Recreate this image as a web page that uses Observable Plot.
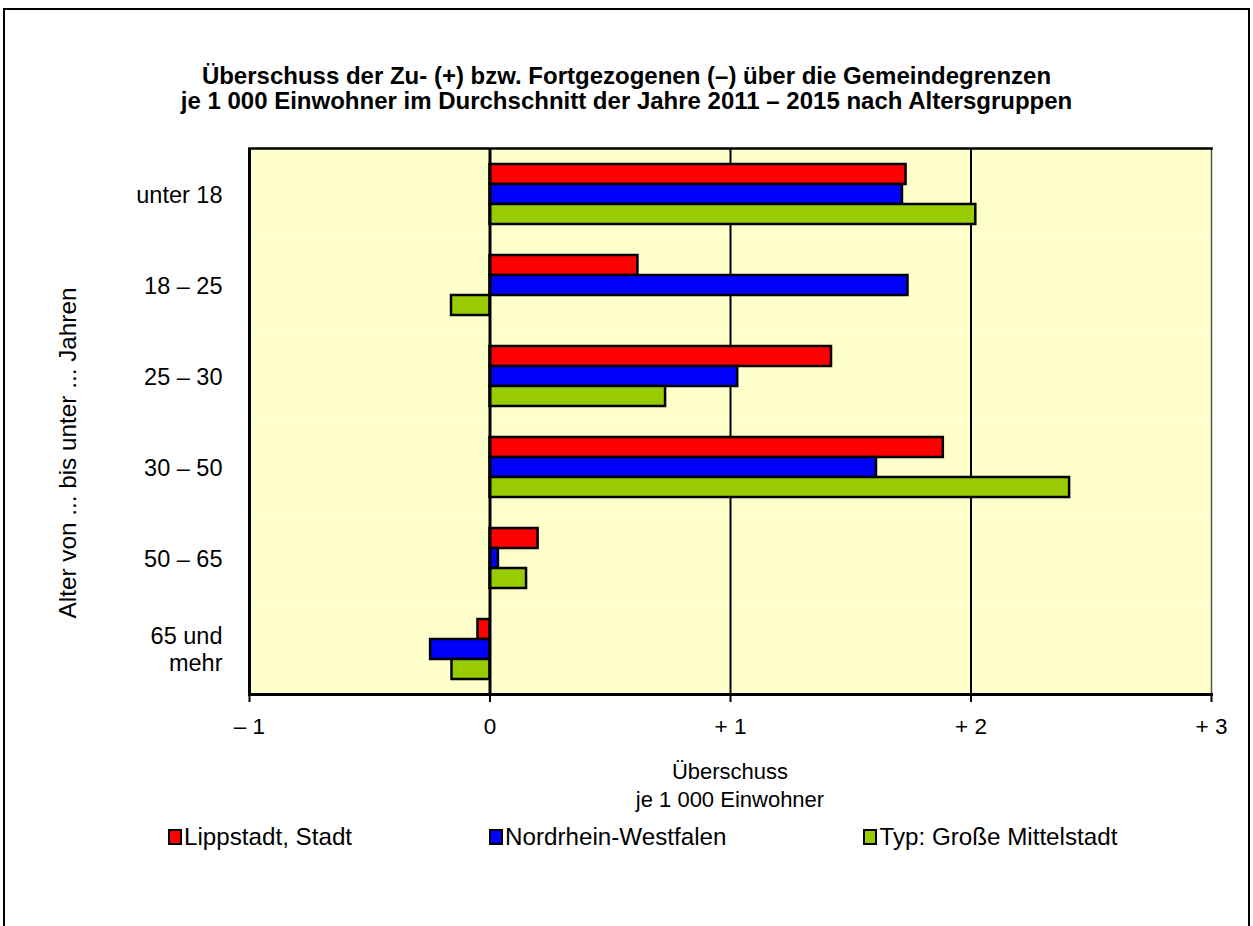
<!DOCTYPE html>
<html>
<head>
<meta charset="utf-8">
<script src="https://cdn.jsdelivr.net/npm/d3@7"></script>
<script src="https://cdn.jsdelivr.net/npm/@observablehq/plot@0.6"></script>
<style>
  html, body { margin: 0; padding: 0; background: #fff; width: 1253px; height: 926px; overflow: hidden; }
  body { position: relative; font-family: "Liberation Sans", Arial, sans-serif; color: #000; }
  #frame { position: absolute; left: 3px; top: 8px; width: 1243px; height: 940px; border: 2px solid #000; border-bottom: none; }
  #title { position: absolute; left: 0; top: 63px; width: 1253px; text-align: center; font-weight: bold; font-size: 24px; line-height: 25px; }
  #chart { position: absolute; left: 0; top: 120px; }
  #ylab { position: absolute; left: 68px; top: 453px; transform: translate(-50%, -50%) rotate(-90deg); white-space: nowrap; font-size: 24.3px; }
  #xlab { position: absolute; left: 430px; top: 758px; width: 600px; text-align: center; font-size: 22px; line-height: 28px; }
  #legend { position: absolute; left: 168px; top: 822px; display: flex; gap: 137px; font-size: 24.2px; line-height: 30px; }
  .item { display: flex; align-items: center; white-space: nowrap; }
  .sw { width: 10px; height: 12px; border: 2px solid #000; margin-right: 2px; }
</style>
</head>
<body>
<div id="frame"></div>
<div id="title">Überschuss der Zu- (+) bzw. Fortgezogenen (–) über die Gemeindegrenzen<br>je 1 000 Einwohner im Durchschnitt der Jahre 2011 – 2015 nach Altersgruppen</div>
<div id="chart"></div>
<div id="ylab">Alter von ... bis unter ... Jahren</div>
<div id="xlab">Überschuss<br>je 1 000 Einwohner</div>
<div id="legend"></div>
<script>
const groups = ["unter 18", "18 – 25", "25 – 30", "30 – 50", "50 – 65", "65 und\nmehr"];
const seriesNames = ["Lippstadt, Stadt", "Nordrhein-Westfalen", "Typ: Große Mittelstadt"];
const seriesColors = ["#FF0000", "#0000FF", "#99CC00"];
const lippstadt = [1.73, 0.615, 1.42, 1.885, 0.20, -0.05];
const nrw = [1.715, 1.738, 1.03, 1.607, 0.035, -0.247];
const typ = [2.02, -0.16, 0.73, 2.41, 0.152, -0.158];
const xTicks = [-1, 0, 1, 2, 3];
const xTickLabels = ["– 1", "0", "+ 1", "+ 2", "+ 3"];
const gridValues = [1, 2];

const seriesValues = [lippstadt, nrw, typ];
const data = [];
groups.forEach((g, i) => {
  seriesNames.forEach((s, j) => {
    data.push({group: g, series: s, value: seriesValues[j][i]});
  });
});

const plot = Plot.plot({
  width: 1253,
  height: 630,
  marginLeft: 249,
  marginRight: 42,
  marginTop: 26,
  marginBottom: 54,
  style: {fontFamily: "Liberation Sans, Arial, sans-serif", fontSize: "22px", background: "transparent", color: "#000"},
  x: {domain: [-1, 3]},
  y: {domain: seriesNames, paddingInner: 0, paddingOuter: 0.745, axis: null},
  fy: {domain: groups, padding: 0, label: null},
  color: {domain: seriesNames, range: seriesColors},
  marks: [
    Plot.frame({fill: "#FFFFCC", stroke: null}),
    Plot.ruleX(gridValues, {stroke: "#000", strokeWidth: 2}),
    Plot.barX(data, {x: "value", y: "series", fy: "group", fill: "series", stroke: "#000", strokeWidth: 2.5, insetTop: 0, insetBottom: 0}),
    Plot.ruleX([0], {stroke: "#000", strokeWidth: 3}),
    Plot.ruleX([xTicks[0]], {stroke: "#000", strokeWidth: 3}),
    Plot.ruleX([xTicks[xTicks.length - 1]], {stroke: "#555", strokeWidth: 1.5}),
    Plot.frame({anchor: "top", fy: [groups[0]], stroke: "#000", strokeWidth: 2.5}),
    Plot.frame({anchor: "bottom", fy: [groups[groups.length - 1]], stroke: "#000", strokeWidth: 3}),
    Plot.axisX({ticks: xTicks, tickFormat: (d) => xTickLabels[xTicks.indexOf(d)], tickSize: 8, tickPadding: 16, strokeWidth: 2, label: null, fontSize: 22.5}),
    Plot.axisFy({anchor: "left", tickSize: 0, tickPadding: 27, label: null, fontSize: 23.5, lineHeight: 1.15})
  ]
});
document.getElementById("chart").appendChild(plot);

const legend = document.getElementById("legend");
seriesNames.forEach((s, j) => {
  const item = document.createElement("div");
  item.className = "item";
  const sw = document.createElement("span");
  sw.className = "sw";
  sw.style.background = seriesColors[j];
  const t = document.createElement("span");
  t.textContent = s;
  item.appendChild(sw);
  item.appendChild(t);
  legend.appendChild(item);
});
</script>
</body>
</html>
